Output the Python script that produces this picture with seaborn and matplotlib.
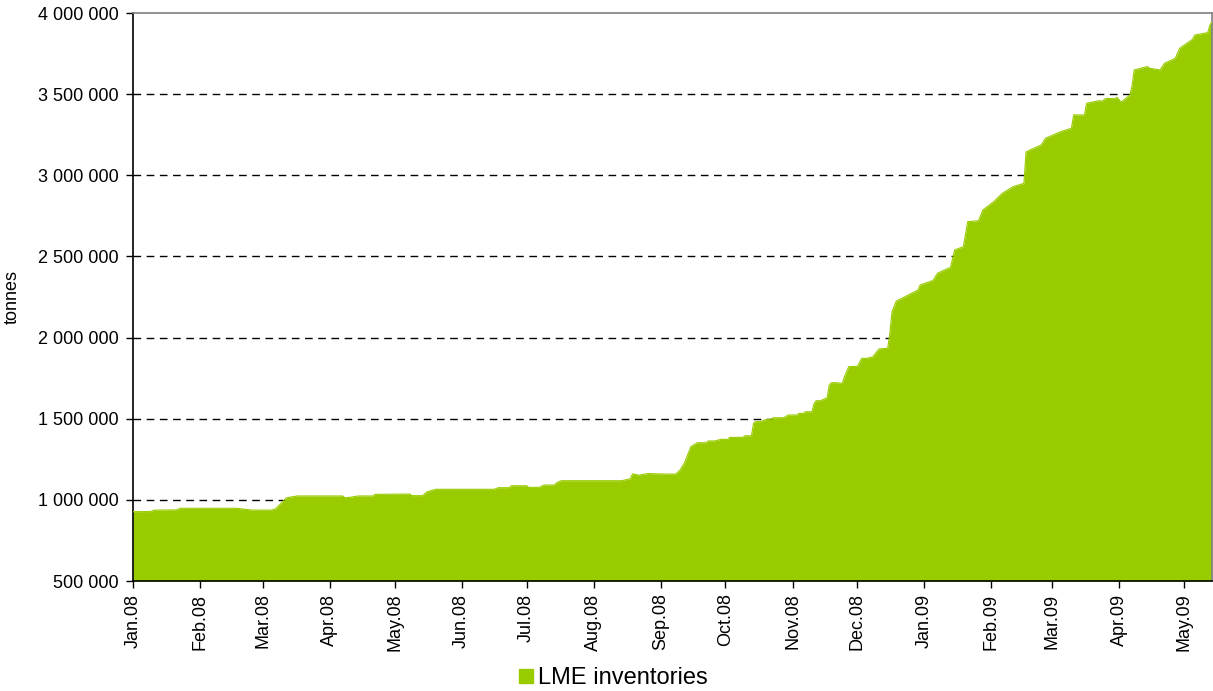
import matplotlib
matplotlib.use("Agg")
import matplotlib.pyplot as plt
import matplotlib.dates as mdates
from matplotlib.lines import Line2D
import seaborn as sns
import pandas as pd

# LME stocks (tonnes)
dates = [
    "2008-01-01", "2008-01-09", "2008-01-11", "2008-01-21", "2008-01-23",
    "2008-02-18", "2008-02-25", "2008-03-05", "2008-03-07", "2008-03-12",
    "2008-03-17", "2008-04-07", "2008-04-08", "2008-04-10", "2008-04-14",
    "2008-04-21", "2008-04-22", "2008-05-08", "2008-05-09", "2008-05-14",
    "2008-05-16", "2008-05-20", "2008-06-16", "2008-06-18", "2008-06-23",
    "2008-06-24", "2008-07-01", "2008-07-02", "2008-07-07", "2008-07-09",
    "2008-07-14", "2008-07-15", "2008-07-17", "2008-08-14", "2008-08-18",
    "2008-08-19", "2008-08-22", "2008-08-26", "2008-09-03", "2008-09-08",
    "2008-09-10", "2008-09-12", "2008-09-15", "2008-09-18", "2008-09-22",
    "2008-09-23", "2008-09-26", "2008-09-29", "2008-10-02", "2008-10-03",
    "2008-10-09", "2008-10-10", "2008-10-13", "2008-10-14", "2008-10-15",
    "2008-10-17", "2008-10-20", "2008-10-22", "2008-10-23", "2008-10-28",
    "2008-10-30", "2008-11-03", "2008-11-04", "2008-11-06", "2008-11-07",
    "2008-11-10", "2008-11-11", "2008-11-12", "2008-11-14", "2008-11-17",
    "2008-11-18", "2008-11-19", "2008-11-21", "2008-11-24", "2008-11-25",
    "2008-11-27", "2008-12-01", "2008-12-03", "2008-12-05", "2008-12-08",
    "2008-12-11", "2008-12-15", "2008-12-16", "2008-12-17", "2008-12-19",
    "2008-12-23", "2008-12-29", "2008-12-30", "2009-01-05", "2009-01-07",
    "2009-01-12", "2009-01-13", "2009-01-15", "2009-01-19", "2009-01-21",
    "2009-01-26", "2009-01-28", "2009-02-02", "2009-02-03", "2009-02-06",
    "2009-02-11", "2009-02-16", "2009-02-17", "2009-02-24", "2009-02-26",
    "2009-03-05", "2009-03-10", "2009-03-11", "2009-03-16", "2009-03-17",
    "2009-03-23", "2009-03-24", "2009-03-26", "2009-03-30", "2009-03-31",
    "2009-04-02", "2009-04-06", "2009-04-07", "2009-04-08", "2009-04-14",
    "2009-04-15", "2009-04-20", "2009-04-22", "2009-04-27", "2009-04-29",
    "2009-05-05", "2009-05-06", "2009-05-12", "2009-05-13", "2009-05-14",
]
stocks = [
    927000, 928000, 937000, 938000, 948000,
    948000, 937000, 937000, 945000, 1013000,
    1024000, 1024000, 1013000, 1015000, 1024000,
    1024000, 1034000, 1036000, 1026000, 1026000,
    1050000, 1065000, 1065000, 1075000, 1075000,
    1087000, 1087000, 1077000, 1077000, 1091000,
    1092000, 1106000, 1118000, 1118000, 1130000,
    1160000, 1152000, 1162000, 1159000, 1159000,
    1184000, 1227000, 1328000, 1352000, 1352000,
    1363000, 1363000, 1373000, 1373000, 1385000,
    1385000, 1395000, 1395000, 1472000, 1482000,
    1482000, 1496000, 1496000, 1506000, 1506000,
    1523000, 1523000, 1533000, 1533000, 1543000,
    1543000, 1595000, 1611000, 1611000, 1630000,
    1708000, 1722000, 1722000, 1718000, 1759000,
    1821000, 1823000, 1872000, 1872000, 1880000,
    1930000, 1934000, 2026000, 2159000, 2225000,
    2252000, 2293000, 2324000, 2352000, 2396000,
    2427000, 2430000, 2540000, 2560000, 2714000,
    2720000, 2786000, 2837000, 2850000, 2889000,
    2930000, 2950000, 3145000, 3187000, 3228000,
    3269000, 3290000, 3372000, 3372000, 3444000,
    3460000, 3455000, 3474000, 3472000, 3480000,
    3451000, 3495000, 3550000, 3649000, 3670000,
    3660000, 3649000, 3690000, 3721000, 3782000,
    3838000, 3864000, 3879000, 3926000, 3945000,
]

yticks = [500000, 1000000, 1500000, 2000000, 2500000, 3000000, 3500000, 4000000]
green = "#99CC00"

df = pd.DataFrame({"date": pd.to_datetime(dates), "tonnes": stocks})

sns.set_theme(style="white")
plt.rcParams["font.family"] = ["Liberation Sans", "DejaVu Sans"]
plt.rcParams["text.color"] = "black"
plt.rcParams["axes.labelcolor"] = "black"
plt.rcParams["xtick.color"] = "black"
plt.rcParams["ytick.color"] = "black"

fig = plt.figure(figsize=(12.13, 6.91), dpi=100)
ax = fig.add_axes([133 / 1213, 1 - 581 / 691, 1 - 133 / 1213 - 0.0008, (581 - 13) / 691])

# area under the stock curve
ax.fill_between(df["date"], yticks[0], df["tonnes"], color=green, linewidth=0, zorder=2)
sns.lineplot(data=df, x="date", y="tonnes", ax=ax, color=green, linewidth=0.8, zorder=3)

ax.set_ylim(yticks[0], yticks[-1])
ax.set_xlim(df["date"].iloc[0], df["date"].iloc[-1])
ax.set_yticks(yticks)
ax.yaxis.set_major_formatter(plt.FuncFormatter(lambda v, p: f"{int(v):,}".replace(",", " ")))
ax.xaxis.set_major_locator(mdates.MonthLocator())
ax.xaxis.set_major_formatter(mdates.DateFormatter("%b.%y"))

# dashed gridlines, like the original spreadsheet chart
for v in yticks[1:-1]:
    ax.axhline(v, color="black", linewidth=1, dashes=(5.5, 4), zorder=1)

ax.tick_params(axis="both", which="major", direction="out", length=5, width=1,
               color="black", labelcolor="black", labelsize=13, bottom=True, left=True)
ax.tick_params(axis="y", pad=5)
ax.tick_params(axis="x", pad=4)
plt.setp(ax.get_xticklabels(), rotation=90)
ax.set_xlabel("")
ax.set_ylabel("tonnes", fontsize=13, labelpad=13, color="black")

for side in ["left", "bottom"]:
    ax.spines[side].set_color("black")
    ax.spines[side].set_linewidth(1.2)
for side in ["top", "right"]:
    ax.spines[side].set_color("#808080")
    ax.spines[side].set_linewidth(1.2)

handle = Line2D([], [], marker="s", linestyle="none", markersize=10,
                color=green, label="LME inventories")
leg = fig.legend(handles=[handle], loc="center", bbox_to_anchor=(612 / 1213, 1 - 678 / 691),
                 frameon=False, fontsize=17, handletextpad=0.1, borderpad=0, handlelength=0.8)
for t in leg.get_texts():
    t.set_color("black")

fig.savefig("out.png", dpi=100)
plt.close(fig)
